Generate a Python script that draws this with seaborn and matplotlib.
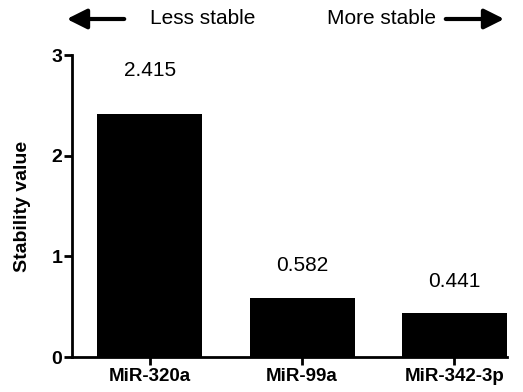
import matplotlib
matplotlib.use("Agg")
import matplotlib.pyplot as plt
import seaborn as sns
import pandas as pd

categories = ["MiR-320a", "MiR-99a", "MiR-342-3p"]
values = [2.415, 0.582, 0.441]
value_labels = ["2.415", "0.582", "0.441"]
yticks = [0, 1, 2, 3]

sns.set_style("ticks", {"axes.edgecolor": "black", "xtick.color": "black",
                        "ytick.color": "black", "text.color": "black",
                        "axes.labelcolor": "black"})
plt.rcParams['font.family'] = ['Liberation Sans', 'DejaVu Sans']

df = pd.DataFrame({"miRNA": categories, "value": values})

fig = plt.figure(figsize=(5.23, 3.92), dpi=100)
ax = fig.add_axes([72/523, 1-357/392, (507-72)/523, (357-55)/392])
sns.barplot(data=df, x="miRNA", y="value", color="black", width=0.69,
            saturation=1, ax=ax, edgecolor="black", linewidth=0)

ax.set_xlim(-0.51, 2.345)
ax.set_ylim(0, 3)
ax.set_yticks(yticks)
ax.set_yticklabels([str(t) for t in yticks], fontsize=14, fontweight="bold")
ax.set_xticks(range(len(categories)))
ax.set_xticklabels(categories, fontsize=13.5, fontweight="bold")
ax.set_xlabel("")
ax.set_ylabel("Stability value", fontsize=14, fontweight="bold", labelpad=15)

for s in ["top", "right"]:
    ax.spines[s].set_visible(False)
for s in ["left", "bottom"]:
    ax.spines[s].set_linewidth(2)
    ax.spines[s].set_color("black")
ax.tick_params(axis="both", width=2, length=6, direction="out", pad=1,
               color="black", labelcolor="black")
ax.tick_params(axis="x", pad=2)

offsets = [0.43, 0.33, 0.31]
for i, (v, lab) in enumerate(zip(values, value_labels)):
    ax.text(i, v + offsets[i], lab, ha="center", va="center", fontsize=15, color="black")

# Top arrows and labels
fig.text(150/523, 1-19/392, "Less stable", ha="left", va="center", fontsize=15, color="black")
fig.text(436/523, 1-19/392, "More stable", ha="right", va="center", fontsize=15, color="black")
fig.add_artist(matplotlib.patches.FancyArrowPatch((127/523, 1-19/392), (64/523, 1-19/392),
               transform=fig.transFigure, arrowstyle="-|>,head_length=8,head_width=4",
               mutation_scale=1.5, color="black", linewidth=3))
fig.add_artist(matplotlib.patches.FancyArrowPatch((443/523, 1-19/392), (507/523, 1-19/392),
               transform=fig.transFigure, arrowstyle="-|>,head_length=8,head_width=4",
               mutation_scale=1.5, color="black", linewidth=3))

fig.savefig("out.png", dpi=100)
